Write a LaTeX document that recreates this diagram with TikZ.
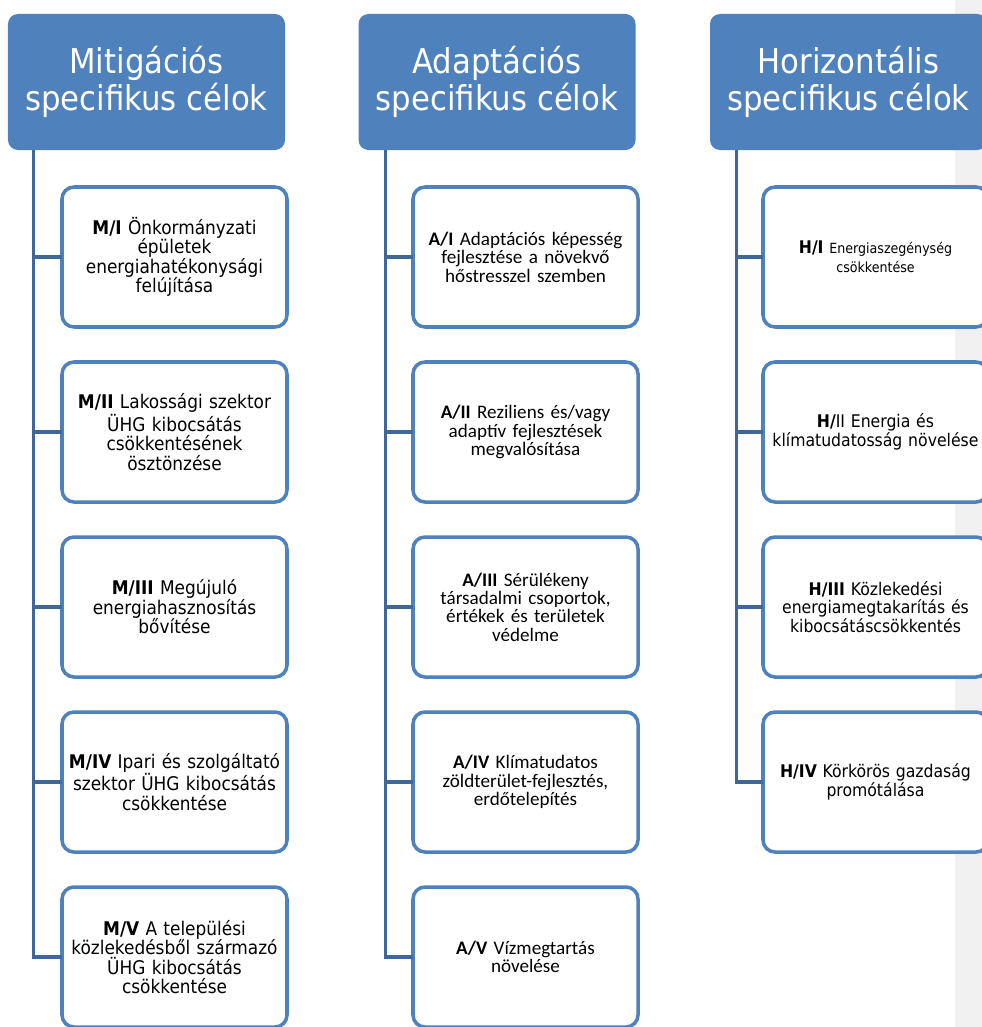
\documentclass[tikz,border=0pt]{standalone}
\usepackage{fontspec}
\newfontfamily\tahomafont{DejaVu Sans Condensed}
\newfontfamily\calfont{Carlito}
\usepackage{tikz}
\usetikzlibrary{positioning}

\definecolor{hdrblue}{HTML}{4F81BD}
\definecolor{linkblue}{HTML}{3F6799}
\definecolor{stripgray}{HTML}{F0F0F0}

\tikzset{
	header/.style={fill=hdrblue, rounded corners=2.5mm, minimum width=69.25mm, minimum height=34mm,
		text=white, align=center, inner sep=0pt, font=\tahomafont\fontsize{24.3}{26.6}\selectfont},
	goal/.style={draw=hdrblue, line width=2.5pt, fill=white, rounded corners=3mm, outer sep=0pt,
		minimum width=56.25mm, minimum height=35mm, text width=55mm, align=center, inner sep=0pt},
	mtext/.style={font=\tahomafont\fontsize{13.4}{13.9}\selectfont},
	htext/.style={font=\tahomafont\fontsize{12.4}{13.2}\selectfont},
	atext/.style={font=\calfont\fontsize{13.6}{13.1}\selectfont},
	branch/.style={draw=linkblue, line width=2.3pt}
}

\begin{document}
\begin{tikzpicture}[x=0.25mm,y=-0.25mm, node distance=8.75mm]

	\useasboundingbox (0,0) rectangle (982,1027);
	\clip (0,0) rectangle (982,1027);
	\fill[stripgray] (955,0) rectangle (982,1027); %page edge

	% headers
	\node[header] (m0) at (146.5,82) {Mitigációs\\specifikus célok};
	\node[header] (a0) at (497,82) {Adaptációs\\specifikus célok};
	\node[header] (h0) at (848.5,82) {Horizontális\\specifikus célok};

	% mitigation
	\node[goal,mtext] (m1) at (174.5,257) {\textbf{M/I} Önkormányzati\\épületek\\energiahatékonysági\\felújítása};
	\node[goal,mtext,below=of m1] (m2) {\textbf{M/II} Lakossági szektor\\ÜHG kibocsátás\\csökkentésének\\ösztönzése};
	\node[goal,mtext,below=of m2] (m3) {\textbf{M/III} Megújuló\\energiahasznosítás\\bővítése};
	\node[goal,mtext,below=of m3] (m4) {\textbf{M/IV} Ipari és szolgáltató\\szektor ÜHG kibocsátás\\csökkentése};
	\node[goal,mtext,below=of m4] (m5) {\textbf{M/V} A települési\\közlekedésből származó\\ÜHG kibocsátás\\csökkentése};

	% adaptation
	\node[goal,atext] (a1) at (525.5,257) {\textbf{A/I} Adaptációs képesség\\fejlesztése a növekvő\\hőstresszel szemben};
	\node[goal,atext,below=of a1] (a2) {\textbf{A/II} Reziliens és/vagy\\adaptív fejlesztések\\megvalósítása};
	\node[goal,atext,below=of a2] (a3) {\textbf{A/III} Sérülékeny\\társadalmi csoportok,\\értékek és területek\\védelme};
	\node[goal,atext,below=of a3] (a4) {\textbf{A/IV} Klímatudatos\\zöldterület-fejlesztés,\\erdőtelepítés};
	\node[goal,atext,below=of a4] (a5) {\textbf{A/V} Vízmegtartás\\növelése};

	% horizontal
	\node[goal,htext] (h1) at (875.5,257) {\textbf{H/I} {\fontsize{10}{11.7}\selectfont Energiaszegénység\\csökkentése}};
	\node[goal,htext,below=of h1] (h2) {\textbf{H/}II Energia és\\klímatudatosság növelése};
	\node[goal,htext,below=of h2] (h3) {\textbf{H/III} Közlekedési\\energiamegtakarítás és\\kibocsátáscsökkentés};
	\node[goal,htext,below=of h3] (h4) {\textbf{H/IV} Körkörös gazdaság\\promótálása};

	\coordinate (mroot) at ([xshift=6.5mm]m0.south west);
	\coordinate (aroot) at ([xshift=6.75mm]a0.south west);
	\coordinate (hroot) at ([xshift=6.75mm]h0.south west);

	\foreach \i in {1,...,5}{
		\draw[branch] (mroot) |- (m\i.west);
		\draw[branch] (aroot) |- (a\i.west);
	}
	\foreach \i in {1,...,4}
		\draw[branch] (hroot) |- (h\i.west);

\end{tikzpicture}
\end{document}
